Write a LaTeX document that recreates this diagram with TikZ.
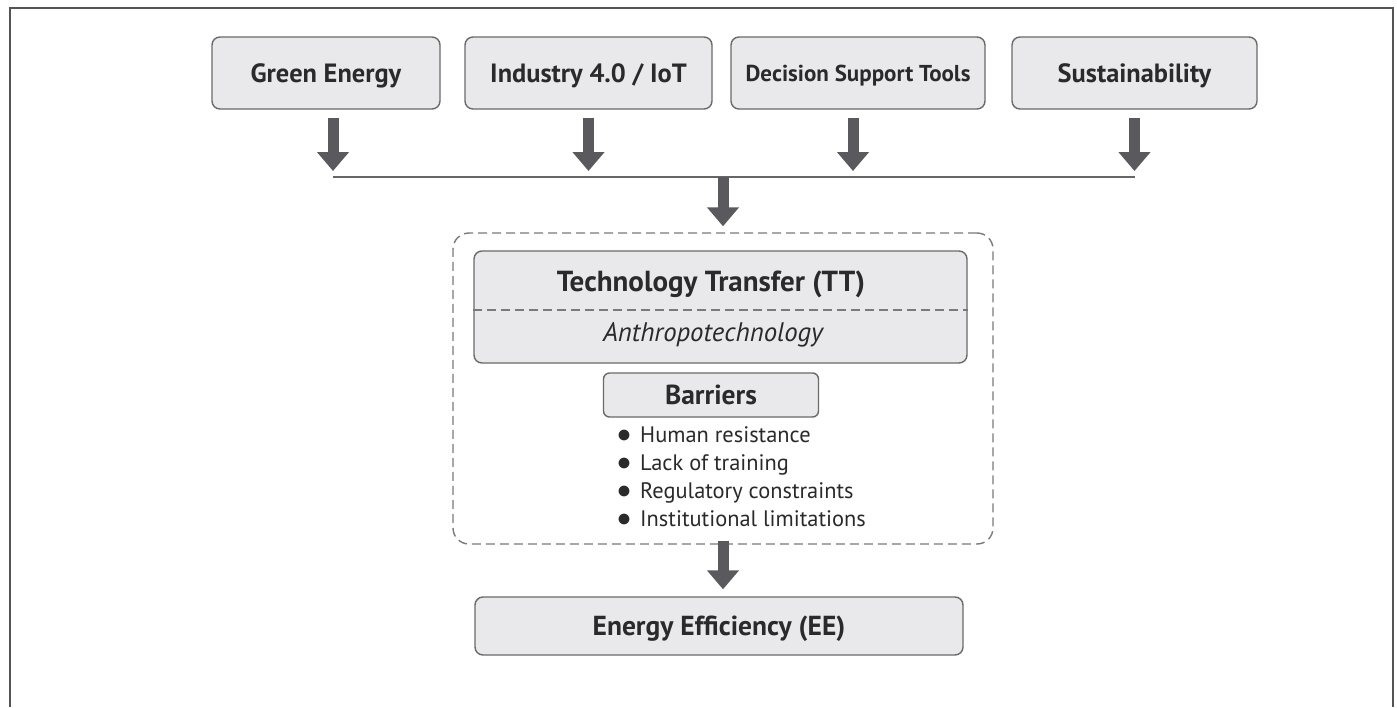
\documentclass[tikz,border=0pt]{standalone}
\usepackage{fontspec}
\setmainfont{PT Sans}
\usetikzlibrary{arrows.meta}
\definecolor{framec}{HTML}{555555}
\definecolor{boxfill}{HTML}{E9E9EB}
\definecolor{boxline}{HTML}{6A6A6A}
\definecolor{txt}{HTML}{2A2A2C}
\definecolor{arrowc}{HTML}{5A5A5E}
\definecolor{dashc}{HTML}{7A7A7A}
\definecolor{busc}{HTML}{666666}
\newcommand{\bulitem}{\makebox[23pt][l]{\scalebox{1.35}{$\bullet$}}}
\begin{document}
\begin{tikzpicture}[x=1pt,y=-1pt,
  box/.style={draw=boxline, line width=1.4pt, fill=boxfill, rounded corners=8pt, text=txt, inner sep=0pt},
  topbox/.style={box, minimum height=72pt, font=\fontsize{26.4}{31}\selectfont\bfseries, text height=18.5pt, text depth=0pt},
  bigarrow/.style={draw=arrowc, line width=11pt, -{Triangle[length=19pt,width=31pt]}},
  busline/.style={draw=busc, line width=2pt},
  container/.style={draw=dashc, dash pattern=on 9pt off 5pt, line width=1.4pt, rounded corners=16pt, inner sep=0pt},
  lbl/.style={text=txt, inner sep=0pt}
]
\useasboundingbox (0,0) rectangle (1397,707);
\fill[white] (0,0) rectangle (1397,707);
\draw[framec, line width=2pt] (10,707) -- (10,8) -- (1393,8) -- (1393,707);

% top boxes
\node[topbox, minimum width=228pt] (ge) at (326,73) {Green Energy};
\node[topbox, minimum width=247pt] (iot) at (588.5,73) {Industry 4.0 / IoT};
\node[topbox, minimum width=254pt, font=\fontsize{23}{28}\selectfont\bfseries, text height=16.1pt] (dst) at (858,73) {Decision Support Tools};
\node[topbox, minimum width=245pt] (sus) at (1134.5,73) {Sustainability};

\coordinate (bus) at (722,177);

% container and inner boxes
\node[container, minimum width=540pt, minimum height=311pt] (cont) at (723,388.5) {};
\node[box, minimum width=493pt, minimum height=112pt] (tt) at (720.5,307) {};
\draw[dashc, line width=1.2pt, dash pattern=on 9pt off 5pt] ([yshift=-3pt]tt.west) -- ([yshift=-3pt]tt.east);
\node[lbl, font=\fontsize{29}{34}\selectfont\bfseries, text height=20.3pt, text depth=0pt] (ttl) at (711,281) {Technology Transfer (TT)};
\node[lbl, font=\fontsize{26.8}{31}\selectfont\itshape, text height=18.8pt, text depth=0pt] (anth) at (713,332) {Anthropotechnology};
\node[box, rounded corners=6pt, minimum width=215pt, minimum height=44pt, font=\fontsize{27.5}{32}\selectfont\bfseries, text height=19.3pt, text depth=0pt] (bar) at (711,395) {Barriers};
\node[lbl, anchor=north west, align=left, font=\fontsize{22.4}{28}\selectfont] (list) at (617,426.5)
 {\bulitem Human resistance\\
  \bulitem Lack of training\\
  \bulitem Regulatory constraints\\
  \bulitem Institutional limitations};

% bottom box
\node[box, minimum width=488pt, minimum height=58pt, font=\fontsize{27.5}{32}\selectfont\bfseries, text height=19.3pt, text depth=0pt] (ee) at (719,626) {Energy Efficiency (EE)};

% connectors
\draw[busline] ([xshift=7pt]ge.south |- bus) -- (sus.south |- bus);
\draw[bigarrow] ([xshift=7pt,yshift=-8pt]ge.south) -- ([xshift=7pt,yshift=6pt]ge.south |- bus);
\draw[bigarrow] ([yshift=-8pt]iot.south) -- ([yshift=6pt]iot.south |- bus);
\draw[bigarrow] ([xshift=-5pt,yshift=-8pt]dst.south) -- ([xshift=-5pt,yshift=6pt]dst.south |- bus);
\draw[bigarrow] ([yshift=-8pt]sus.south) -- ([yshift=6pt]sus.south |- bus);
\draw[bigarrow] (cont.north |- bus) -- ([yshift=6pt]cont.north);
\draw[bigarrow] ([yshift=4pt]cont.south) -- ([yshift=7pt]cont.south |- ee.north);
\end{tikzpicture}
\end{document}
